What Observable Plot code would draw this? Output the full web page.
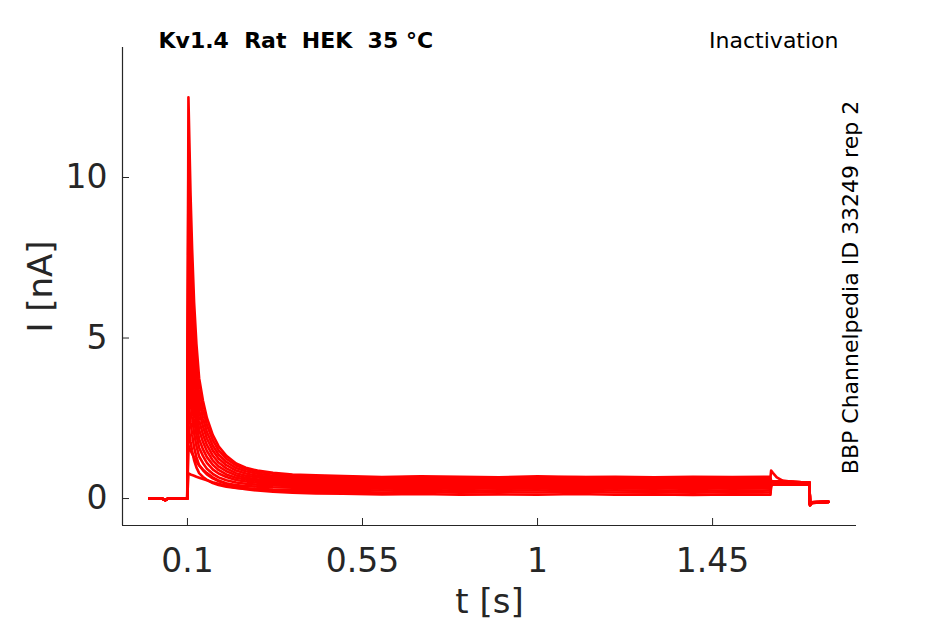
<!DOCTYPE html>
<html><head><meta charset="utf-8">
<script src="https://cdn.jsdelivr.net/npm/d3@7"></script>
<script src="https://cdn.jsdelivr.net/npm/@observablehq/plot@0.6"></script>
<style>body{margin:0;background:#fff} #chart{width:945px;height:624px}</style>
</head><body><div id="chart"></div>
<script>
const title = "Kv1.4  Rat  HEK  35 °C";
const protocol = "Inactivation";
const source = "BBP Channelpedia ID 33249 rep 2";
const xLabel = "t [s]";
const yLabel = "I [nA]";
const xDomain = [-0.067, 1.82];
const yDomain = [-0.84, 14.05];
const xTicks = [0.1, 0.55, 1, 1.45];
const yTicks = [0, 5, 10];

// holding period before the test pulse (shared by all sweeps)
const preT = [0.002, 0.035, 0.043, 0.05, 0.0995];
const preI = [0.0, 0.0, -0.05, 0.0, 0.0];

// test pulse sample times
const pulseT = [0.1025, 0.105, 0.108, 0.112, 0.117, 0.123, 0.13, 0.14, 0.15, 0.165, 0.18, 0.2, 0.225, 0.25, 0.28, 0.32, 0.37, 0.43, 0.5, 0.6, 0.7, 0.8, 0.9, 1.0, 1.1, 1.2, 1.3, 1.4, 1.5, 1.599];

// current of each sweep during the test pulse (nA)
const sweep1  = [12.5, 11.08, 9.43, 7.77, 6.12, 4.82, 3.75, 3.04, 2.51, 1.98, 1.63, 1.33, 1.09, 0.96, 0.87, 0.80, 0.75, 0.72, 0.70, 0.67, 0.69, 0.68, 0.66, 0.69, 0.67, 0.68, 0.66, 0.68, 0.67, 0.68];
const sweep2  = [11.2, 9.94, 8.46, 6.98, 5.51, 4.35, 3.40, 2.77, 2.29, 1.82, 1.50, 1.24, 1.03, 0.91, 0.83, 0.77, 0.72, 0.69, 0.67, 0.65, 0.67, 0.64, 0.66, 0.65, 0.67, 0.64, 0.66, 0.65, 0.66, 0.65];
const sweep3  = [10.0, 8.87, 7.56, 6.25, 4.93, 3.90, 3.06, 2.50, 2.07, 1.65, 1.37, 1.14, 0.95, 0.85, 0.77, 0.71, 0.68, 0.65, 0.63, 0.61, 0.63, 0.60, 0.62, 0.61, 0.63, 0.60, 0.62, 0.61, 0.63, 0.62];
const sweep4  = [8.9, 7.90, 6.74, 5.57, 4.41, 3.49, 2.74, 2.24, 1.87, 1.50, 1.25, 1.04, 0.87, 0.78, 0.71, 0.66, 0.63, 0.61, 0.59, 0.57, 0.59, 0.56, 0.58, 0.57, 0.59, 0.57, 0.58, 0.56, 0.58, 0.57];
const sweep5  = [7.8, 6.93, 5.91, 4.90, 3.88, 3.08, 2.43, 1.99, 1.67, 1.34, 1.12, 0.94, 0.79, 0.71, 0.66, 0.61, 0.58, 0.56, 0.55, 0.53, 0.55, 0.52, 0.54, 0.53, 0.55, 0.53, 0.54, 0.52, 0.54, 0.53];
const sweep6  = [6.8, 6.04, 5.16, 4.28, 3.40, 2.71, 2.14, 1.76, 1.48, 1.19, 1.00, 0.85, 0.72, 0.65, 0.60, 0.56, 0.54, 0.52, 0.51, 0.49, 0.51, 0.48, 0.50, 0.49, 0.51, 0.49, 0.50, 0.48, 0.50, 0.49];
const sweep7  = [5.8, 5.16, 4.41, 3.66, 2.92, 2.33, 1.85, 1.53, 1.29, 1.05, 0.89, 0.75, 0.65, 0.59, 0.55, 0.51, 0.49, 0.48, 0.47, 0.45, 0.47, 0.44, 0.46, 0.45, 0.47, 0.45, 0.46, 0.44, 0.46, 0.45];
const sweep8  = [4.9, 4.36, 3.74, 3.11, 2.48, 1.99, 1.58, 1.32, 1.11, 0.91, 0.78, 0.67, 0.58, 0.53, 0.49, 0.46, 0.45, 0.43, 0.43, 0.41, 0.43, 0.40, 0.42, 0.41, 0.43, 0.41, 0.42, 0.40, 0.42, 0.41];
const sweep9  = [4.0, 3.56, 3.06, 2.55, 2.04, 1.64, 1.31, 1.10, 0.93, 0.77, 0.66, 0.57, 0.50, 0.46, 0.43, 0.41, 0.39, 0.38, 0.38, 0.36, 0.38, 0.35, 0.37, 0.36, 0.38, 0.36, 0.37, 0.35, 0.37, 0.36];
const sweep10 = [3.1, 2.77, 2.38, 1.99, 1.60, 1.29, 1.04, 0.88, 0.75, 0.63, 0.54, 0.47, 0.42, 0.39, 0.37, 0.35, 0.34, 0.33, 0.33, 0.31, 0.33, 0.30, 0.32, 0.31, 0.33, 0.31, 0.32, 0.30, 0.32, 0.31];
const sweep11 = [2.3, 2.06, 1.77, 1.48, 1.20, 0.97, 0.79, 0.67, 0.58, 0.48, 0.42, 0.37, 0.33, 0.31, 0.30, 0.28, 0.27, 0.27, 0.27, 0.25, 0.27, 0.24, 0.26, 0.25, 0.27, 0.25, 0.26, 0.24, 0.26, 0.25];
const sweep12 = [1.65, 1.58, 1.50, 1.40, 1.28, 1.15, 1.03, 0.90, 0.79, 0.66, 0.56, 0.47, 0.39, 0.33, 0.28, 0.25, 0.23, 0.21, 0.21, 0.19, 0.21, 0.18, 0.20, 0.19, 0.21, 0.19, 0.20, 0.18, 0.20, 0.19];
const sweep13 = [0.78, 0.77, 0.75, 0.73, 0.71, 0.68, 0.65, 0.61, 0.57, 0.51, 0.46, 0.40, 0.34, 0.29, 0.25, 0.21, 0.18, 0.16, 0.15, 0.13, 0.14, 0.12, 0.13, 0.12, 0.14, 0.12, 0.13, 0.11, 0.13, 0.12];
const sweeps = [sweep1, sweep2, sweep3, sweep4, sweep5, sweep6, sweep7, sweep8, sweep9, sweep10, sweep11, sweep12, sweep13];

// after the test pulse
const tailT = [1.6005, 1.605, 1.615, 1.63, 1.66, 1.699, 1.7005, 1.705, 1.72, 1.748];
const tailA = [0.87, 0.80, 0.66, 0.56, 0.51, 0.50, -0.22, -0.15, -0.12, -0.11];
const tailB = [0.54, 0.53, 0.52, 0.52, 0.51, 0.50, -0.20, -0.13, -0.12, -0.11];
const tailC = [0.42, 0.43, 0.44, 0.44, 0.44, 0.44, -0.17, -0.12, -0.11, -0.10];
const tails = [tailA, tailB, tailC];
const tailOf = [0, 1, 1, 1, 1, 1, 1, 2, 2, 2, 2, 2, 2];

const rows = [];
sweeps.forEach((vals, k) => {
  preT.forEach((t, j) => rows.push({sweep: k, t, i: preI[j]}));
  pulseT.forEach((t, j) => rows.push({sweep: k, t, i: vals[j]}));
  const tail = tails[tailOf[k]];
  tailT.forEach((t, j) => rows.push({sweep: k, t, i: tail[j]}));
});

const ink = "#262626";
const plot = Plot.plot({
  width: 945, height: 624,
  marginLeft: 122, marginRight: 89, marginTop: 47, marginBottom: 99,
  style: {fontFamily: "DejaVu Sans", background: "white", overflow: "visible"},
  x: {domain: xDomain},
  y: {domain: yDomain},
  marks: [
    Plot.line(rows, {x: "t", y: "i", z: "sweep", stroke: "#ff0000", strokeWidth: 2.6}),
    Plot.ruleX([xDomain[0]], {stroke: ink, strokeWidth: 1.2}),
    Plot.ruleY([yDomain[0]], {stroke: ink, strokeWidth: 1.2}),
    Plot.axisX(xTicks, {tickSize: -7, fill: "none", stroke: ink, label: null}),
    Plot.axisY(yTicks, {tickSize: -7, fill: "none", stroke: ink, label: null}),
    Plot.axisX(xTicks, {tickSize: 0, tickPadding: 23, stroke: "none", fill: ink, fontSize: 33, label: null, tickFormat: d => String(d)}),
    Plot.axisY(yTicks, {tickSize: 0, tickPadding: 15, stroke: "none", fill: ink, fontSize: 33, label: null, tickFormat: d => String(d)}),
    Plot.text([xLabel], {frameAnchor: "bottom", textAnchor: "middle", lineAnchor: "middle", dy: 77, fontSize: 34, fill: ink, text: d => d}),
    Plot.text([yLabel], {frameAnchor: "left", textAnchor: "middle", lineAnchor: "middle", rotate: -90, dx: -81, fontSize: 34, fill: ink, text: d => d}),
    Plot.text([title], {frameAnchor: "top-left", textAnchor: "start", lineAnchor: "middle", dx: 36, dy: -7, fontWeight: "bold", fontSize: 22, fill: "black", text: d => d}),
    Plot.text([protocol], {frameAnchor: "top-right", textAnchor: "end", lineAnchor: "middle", dx: -18, dy: -7, fontSize: 22, fill: "black", text: d => d}),
    Plot.text([source], {frameAnchor: "right", textAnchor: "middle", lineAnchor: "middle", rotate: -90, dx: -6, dy: 1, fontSize: 22, fill: "black", text: d => d})
  ]
});
document.getElementById("chart").appendChild(plot);
</script>
</body></html>
